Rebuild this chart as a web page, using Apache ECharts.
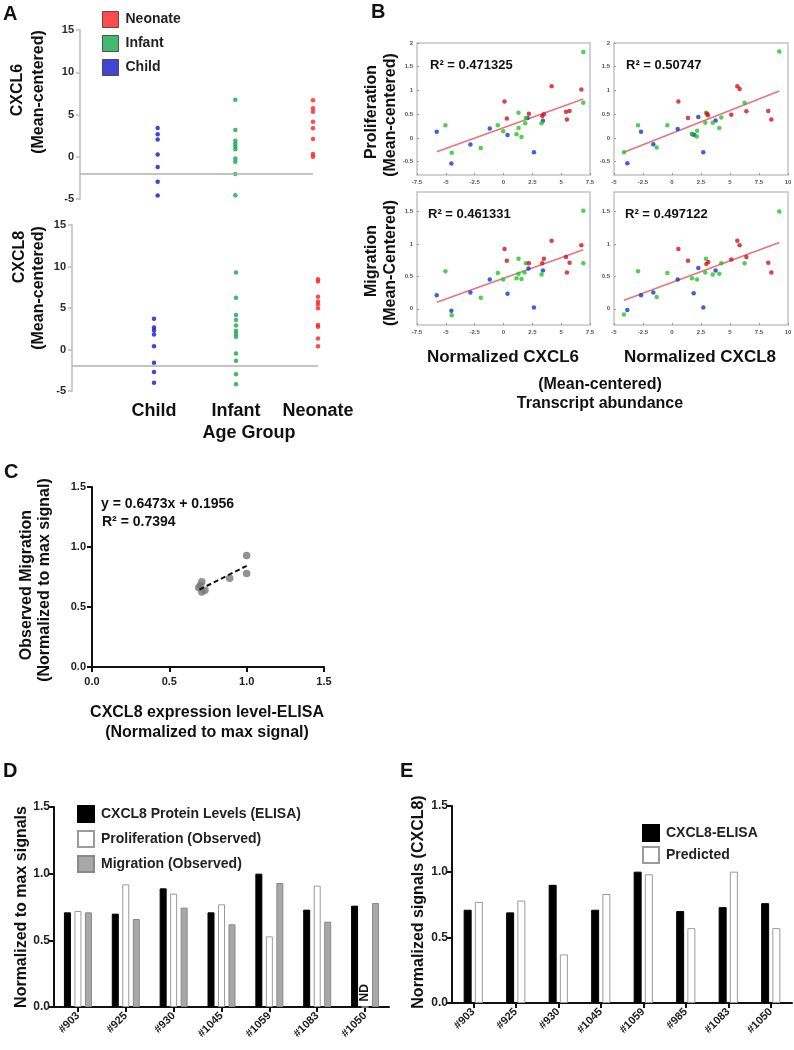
<!DOCTYPE html>
<html><head><meta charset="utf-8">
<script src="https://cdn.jsdelivr.net/npm/echarts@6/dist/echarts.min.js"></script>
<style>html,body{margin:0;padding:0;background:#fff}#c{width:794px;height:1050px}</style>
</head><body><div id="c"></div>
<script>
// ---------- DATA ----------
const ageGroups = ['Child', 'Infant', 'Neonate'];
const aBaseline = -2;
const a6Child = [3.4, 2.65, 2.05, 0.28, -1.22, -2.96, -4.58];
const a6Infant = [6.76, 3.16, 1.9, 1.55, 1.2, 0.9, -0.2, -0.6, -2.05, -4.55, -5.18];
const a6Neonate = [6.68, 5.73, 5.34, 4.15, 3.36, 2.1, 0.32, 0.0];
const a8Child = [3.7, 2.65, 2.3, 1.8, 0.4, -1.6, -2.7, -4.0];
const a8Infant = [9.27, 6.25, 4.15, 3.55, 2.9, 2.26, 1.9, 1.53, -0.48, -1.37, -2.98, -4.2];
const a8Neonate = [8.47, 8.19, 6.37, 5.77, 5.44, 4.96, 2.94, 2.74, 1.33, 0.4];

// B: top-left (CXCL6 vs proliferation)
const b1Blue = [[-5.79,0.13],[-4.52,-0.54],[-2.87,-0.14],[-1.19,0.20],[0.35,0.06],[2.08,0.42],[2.64,-0.30],[3.42,0.36]];
const b1Green = [[-5.04,0.27],[-4.49,-0.31],[-1.97,-0.21],[-0.49,0.27],[-0.03,0.14],[1.30,0.53],[1.30,0.21],[1.13,0.08],[1.56,0.02],[1.88,0.31],[1.94,0.42],[3.30,0.31],[6.92,1.81],[6.92,0.74]];
const b1Red = [[0.09,0.77],[0.29,0.41],[2.20,0.51],[3.36,0.46],[3.50,0.50],[4.17,1.09],[5.42,0.55],[5.50,0.39],[5.73,0.57],[6.75,1.02]];
const b1Trend = [[-5.79,-0.29],[6.92,0.82]];
const b1R2 = 'R² = 0.471325';
// B: top-right (CXCL8 vs proliferation)
const b2Blue = [[-3.85,-0.53],[-2.67,0.13],[-1.61,-0.13],[0.49,0.19],[1.75,0.08],[1.93,0.06],[2.27,0.44],[2.70,-0.30],[3.76,0.37]];
const b2Green = [[-4.14,-0.30],[-2.93,0.27],[-1.32,-0.20],[-0.40,0.27],[1.72,0.09],[2.16,0.15],[2.13,0.03],[2.87,0.32],[2.93,0.53],[3.51,0.32],[4.08,0.21],[4.25,0.43],[6.26,0.74],[9.25,1.82]];
const b2Red = [[0.55,0.77],[1.38,0.42],[3.02,0.51],[3.10,0.48],[5.11,0.49],[5.63,1.09],[5.83,1.03],[6.41,0.56],[8.30,0.57],[8.56,0.39]];
const b2Trend = [[-4.14,-0.30],[9.25,0.99]];
const b2R2 = 'R² = 0.50747';
// B: bottom-left (CXCL6 vs migration)
const b3Blue = [[-5.79,0.21],[-4.52,-0.03],[-2.87,0.25],[-1.19,0.45],[0.35,0.23],[2.17,0.62],[2.64,0.02],[3.42,0.59]];
const b3Green = [[-5.04,0.58],[-4.49,-0.10],[-1.97,0.17],[-0.49,0.55],[-0.03,0.45],[1.30,0.77],[1.30,0.54],[1.13,0.47],[1.56,0.46],[1.82,0.56],[1.94,0.70],[3.30,0.53],[6.92,1.51],[6.92,0.70]];
const b3Red = [[0.09,0.92],[0.29,0.74],[2.20,0.70],[3.36,0.70],[3.50,0.77],[4.17,1.05],[5.42,0.80],[5.50,0.56],[5.73,0.71],[6.75,0.98]];
const b3Trend = [[-5.79,0.10],[6.92,0.91]];
const b3R2 = 'R² = 0.461331';
// B: bottom-right (CXCL8 vs migration)
const b4Blue = [[-3.85,-0.02],[-2.67,0.21],[-1.61,0.25],[0.49,0.45],[1.87,0.24],[2.70,0.02],[2.27,0.63],[3.76,0.59]];
const b4Green = [[-4.14,-0.09],[-2.93,0.58],[-1.32,0.18],[-0.40,0.55],[1.72,0.47],[2.16,0.45],[2.87,0.56],[2.93,0.77],[3.51,0.53],[4.08,0.54],[4.25,0.70],[6.26,0.70],[9.25,1.50]];
const b4Red = [[0.55,0.92],[1.38,0.74],[2.96,0.69],[3.13,0.72],[5.11,0.76],[5.63,1.05],[5.83,0.98],[6.41,0.80],[8.30,0.71],[8.56,0.56]];
const b4Trend = [[-4.14,0.13],[9.25,1.02]];
const b4R2 = 'R² = 0.497122';
const bYTopTicks = [-0.5, 0, 0.5, 1, 1.5, 2];
const bYBotTicks = [0, 0.5, 1, 1.5];

// C
const cPoints = [[0.71,0.71],[0.70,0.68],[0.69,0.66],[0.71,0.625],[0.73,0.64],[0.89,0.74],[1.0,0.93],[1.0,0.78]];
const cTrend = [[0.695,0.645],[1.0,0.843]];
const cEquation = 'y = 0.6473x + 0.1956';
const cR2 = 'R² = 0.7394';

// D
const dSamples = ['#903', '#925', '#930', '#1045', '#1059', '#1083', '#1050'];
const dElisa = [0.71, 0.70, 0.89, 0.71, 1.0, 0.73, 0.76];
const dProlif = [0.72, 0.92, 0.85, 0.77, 0.53, 0.91, null];
const dMigr = [0.71, 0.66, 0.745, 0.62, 0.93, 0.64, 0.78];

// E
const eSamples = ['#903', '#925', '#930', '#1045', '#1059', '#985', '#1083', '#1050'];
const eElisa = [0.71, 0.69, 0.90, 0.71, 1.0, 0.70, 0.73, 0.76];
const ePred = [0.77, 0.78, 0.37, 0.83, 0.98, 0.57, 1.0, 0.57];

// ---------- STYLE ----------
const FONT = '"Liberation Sans", Arial, Helvetica, sans-serif';
const A_RED = '#ff1e1e', A_GREEN = '#14a84c', A_BLUE = '#1414cc';
const B_RED = '#d4101c', B_GREEN = '#22c424', B_BLUE = '#1438c4';
const TREND = '#e8747c';

const chart = echarts.init(document.getElementById('c'));

const gridDefs = [
  {left: 80, top: 30, width: 233, height: 169},
  {left: 72, top: 225, width: 246, height: 166},
  {left: 417, top: 43, width: 173, height: 132, show: true},
  {left: 614, top: 43, width: 174, height: 132, show: true},
  {left: 417, top: 192, width: 173, height: 133, show: true},
  {left: 614, top: 192, width: 174, height: 133, show: true},
  {left: 92, top: 487, width: 232, height: 180},
  {left: 54, top: 807, width: 335, height: 200},
  {left: 452, top: 806, width: 340, height: 197}
].map(g => Object.assign({outerBoundsMode: 'none', containLabel: false, borderColor: '#c4c4c4', borderWidth: 1.5, backgroundColor: 'transparent'}, g));

function aY(i) {
  return {gridIndex: i, type: 'value', min: -5, max: 15, interval: 5,
    axisLine: {show: true, onZero: false, lineStyle: {color: '#bcbcbc', width: 1.5}},
    axisTick: {show: true, length: 4, lineStyle: {color: '#bcbcbc', width: 1.5}},
    axisLabel: {fontSize: 11, fontWeight: 'bold', color: '#2a2a2a', margin: 6, fontFamily: FONT},
    splitLine: {show: false}};
}
function aX(i, showLabels) {
  return {gridIndex: i, type: 'value', min: 0, max: 3, interval: 1,
    axisLine: {show: false, onZero: false}, axisTick: {show: false}, splitLine: {show: false},
    axisLabel: {show: showLabels, showMaxLabel: true, showMinLabel: true,
      formatter: v => ageGroups[v - 1] || '', fontSize: 18, fontWeight: 'bold', color: '#111', margin: 11, fontFamily: FONT}};
}
function bX(i, min, max) {
  return {gridIndex: i, type: 'value', min: min, max: max, interval: 2.5,
    axisLine: {show: false, onZero: false},
    axisTick: {show: true, inside: true, length: 2, lineStyle: {color: '#999'}},
    splitLine: {show: false},
    axisLabel: {fontSize: 6, color: '#555', margin: 4, fontWeight: 'bold', fontFamily: FONT, showMaxLabel: true, showMinLabel: true}};
}
function bY(i, min, max, vals) {
  return {gridIndex: i, type: 'value', min: min, max: max,
    axisLine: {show: false, onZero: false},
    axisTick: {show: true, inside: true, length: 2, customValues: vals, lineStyle: {color: '#999'}},
    splitLine: {show: false},
    axisLabel: {customValues: vals, fontSize: 6, color: '#555', margin: 4, fontWeight: 'bold', fontFamily: FONT}};
}
const blackLine = {show: true, onZero: false, lineStyle: {color: '#111', width: 2}};
const blackTick = {show: true, length: 5, lineStyle: {color: '#111', width: 2}};
function numY(i, size, margin) {
  return {gridIndex: i, type: 'value', min: 0, max: 1.5, interval: 0.5,
    axisLine: blackLine, axisTick: blackTick, splitLine: {show: false},
    axisLabel: {formatter: v => v.toFixed(1), fontSize: size, fontWeight: 'bold', color: '#222', margin: margin, fontFamily: FONT}};
}

const xAxes = [
  aX(0, false), aX(1, true),
  bX(2, -7.5, 7.5), bX(3, -5, 10), bX(4, -7.5, 7.5), bX(5, -5, 10),
  {gridIndex: 6, type: 'value', min: 0, max: 1.5, interval: 0.5,
    axisLine: blackLine, axisTick: blackTick, splitLine: {show: false},
    axisLabel: {formatter: v => v.toFixed(1), fontSize: 11, fontWeight: 'bold', color: '#222', margin: 9, fontFamily: FONT}},
  {gridIndex: 7, type: 'category', data: dSamples,
    axisLine: blackLine, axisTick: Object.assign({alignWithLabel: true}, blackTick),
    axisLabel: {rotate: 45, interval: 0, fontSize: 11, fontWeight: 'bold', color: '#222', margin: 7, fontFamily: FONT}},
  {gridIndex: 8, type: 'category', data: eSamples,
    axisLine: blackLine, axisTick: Object.assign({alignWithLabel: true}, blackTick),
    axisLabel: {rotate: 45, interval: 0, fontSize: 11, fontWeight: 'bold', color: '#222', margin: 7, fontFamily: FONT}}
];
const yAxes = [
  aY(0), aY(1),
  bY(2, -0.78, 2, bYTopTicks), bY(3, -0.78, 2, bYTopTicks),
  bY(4, -0.25, 1.8, bYBotTicks), bY(5, -0.25, 1.8, bYBotTicks),
  numY(6, 11, 6), numY(7, 12, 4), numY(8, 12, 4)
];

const series = [];
function aSeries(idx, name, vals, xPos, color, withLine) {
  const s = {type: 'scatter', name: name, xAxisIndex: idx, yAxisIndex: idx,
    data: vals.map(v => [xPos, v]), symbolSize: 4.5, itemStyle: {color: color}, z: 3};
  if (withLine) {
    s.markLine = {silent: true, symbol: 'none', label: {show: false},
      lineStyle: {color: '#b0b0b0', width: 1.5, type: 'solid'}, data: [{yAxis: aBaseline}]};
  }
  series.push(s);
}
aSeries(0, 'Child', a6Child, 1, A_BLUE, true);
aSeries(0, 'Infant', a6Infant, 2, A_GREEN, false);
aSeries(0, 'Neonate', a6Neonate, 3, A_RED, false);
aSeries(1, 'Child', a8Child, 1, A_BLUE, true);
aSeries(1, 'Infant', a8Infant, 2, A_GREEN, false);
aSeries(1, 'Neonate', a8Neonate, 3, A_RED, false);

function bSeries(idx, blue, green, red, trend) {
  series.push({type: 'line', name: 'trend' + idx, xAxisIndex: idx, yAxisIndex: idx, data: trend,
    symbol: 'none', lineStyle: {color: TREND, width: 1.6}, z: 2, silent: true});
  [[blue, B_BLUE], [green, B_GREEN], [red, B_RED]].forEach(([d, c], k) => {
    series.push({type: 'scatter', name: 'b' + idx + '_' + k, xAxisIndex: idx, yAxisIndex: idx,
      data: d, symbolSize: 4.5, itemStyle: {color: c}, z: 3});
  });
}
bSeries(2, b1Blue, b1Green, b1Red, b1Trend);
bSeries(3, b2Blue, b2Green, b2Red, b2Trend);
bSeries(4, b3Blue, b3Green, b3Red, b3Trend);
bSeries(5, b4Blue, b4Green, b4Red, b4Trend);

series.push({type: 'scatter', name: 'cPts', xAxisIndex: 6, yAxisIndex: 6, data: cPoints,
  symbolSize: 7.5, itemStyle: {color: '#777'}, z: 3});
series.push({type: 'line', name: 'cFit', xAxisIndex: 6, yAxisIndex: 6, data: cTrend, symbol: 'none',
  lineStyle: {color: '#111', width: 2, type: [5, 3]}, z: 4});

const dNames = ['CXCL8 Protein Levels (ELISA)', 'Proliferation (Observed)', 'Migration (Observed)'];
series.push({type: 'bar', name: dNames[0], xAxisIndex: 7, yAxisIndex: 7, data: dElisa, barWidth: 7, barGap: '50%',
  itemStyle: {color: '#000', borderColor: '#000', borderWidth: 1}});
series.push({type: 'bar', name: dNames[1], xAxisIndex: 7, yAxisIndex: 7, barWidth: 7, barGap: '50%',
  data: dProlif.map(v => v === null ? {value: 0, label: {show: true, formatter: 'ND', position: 'top', rotate: 90,
    align: 'left', verticalAlign: 'middle', distance: 5, fontSize: 12, fontWeight: 'bold', color: '#111', fontFamily: FONT}} : v),
  itemStyle: {color: '#fff', borderColor: '#9a9a9a', borderWidth: 1}});
series.push({type: 'bar', name: dNames[2], xAxisIndex: 7, yAxisIndex: 7, data: dMigr, barWidth: 7, barGap: '50%',
  itemStyle: {color: '#a8a8a8', borderColor: '#888', borderWidth: 1}});

const eNames = ['CXCL8-ELISA', 'Predicted'];
series.push({type: 'bar', name: eNames[0], xAxisIndex: 8, yAxisIndex: 8, data: eElisa, barWidth: 8, barGap: '40%',
  itemStyle: {color: '#000', borderColor: '#000', borderWidth: 1}});
series.push({type: 'bar', name: eNames[1], xAxisIndex: 8, yAxisIndex: 8, data: ePred, barWidth: 8, barGap: '40%',
  itemStyle: {color: '#fff', borderColor: '#9a9a9a', borderWidth: 1}});

const legText = {fontSize: 14, fontWeight: 'bold', color: '#222', fontFamily: FONT, padding: [0, 0, 0, 2]};
const legends = [
  {data: ['Neonate', 'Infant', 'Child'], orient: 'vertical', left: 97, top: 6, itemWidth: 16, itemHeight: 16,
    itemGap: 7, icon: 'rect', selectedMode: false, textStyle: legText, itemStyle: {borderColor: '#333', borderWidth: 1}},
  {data: dNames, orient: 'vertical', left: 72, top: 800, itemWidth: 16, itemHeight: 16, itemGap: 7,
    icon: 'rect', selectedMode: false, textStyle: legText},
  {data: eNames, orient: 'vertical', left: 637, top: 819, itemWidth: 16, itemHeight: 16, itemGap: 4,
    icon: 'rect', selectedMode: false, textStyle: legText}
];

function txt(text, x, y, size, rotate, align) {
  return {type: 'text', x: x, y: y, rotation: rotate ? Math.PI / 2 : 0, z: 100, silent: true,
    style: {text: text, font: 'bold ' + size + 'px ' + FONT, fill: '#111',
      textAlign: align || 'center', textVerticalAlign: 'middle', align: align || 'center', verticalAlign: 'middle'}};
}
const graphics = [
  txt('A', 3, 14, 20, false, 'left'),
  txt('CXCL6', 18, 90, 16, true),
  txt('(Mean-centered)', 39, 92, 16, true),
  txt('CXCL8', 20, 257, 16, true),
  txt('(Mean-centered)', 39, 288, 16, true),
  txt('Age Group', 249, 433, 18),
  txt('B', 371, 12, 20, false, 'left'),
  txt('Proliferation', 372, 112, 16, true),
  txt('(Mean-centered)', 391, 115, 16, true),
  txt('Migration', 372, 261, 16, true),
  txt('(Mean-Centered)', 391, 263, 16, true),
  txt(b1R2, 430, 65, 13, false, 'left'),
  txt(b2R2, 626, 65, 13, false, 'left'),
  txt(b3R2, 428, 214, 13, false, 'left'),
  txt(b4R2, 625, 214, 13, false, 'left'),
  txt('Normalized CXCL6', 503, 357, 17),
  txt('Normalized CXCL8', 700, 357, 17),
  txt('(Mean-centered)', 600, 385, 16),
  txt('Transcript abundance', 600, 404, 16),
  txt('C', 4, 472, 20, false, 'left'),
  txt('Observed Migration', 27, 585, 16, true),
  txt('(Normalized to max signal)', 45, 580, 16, true),
  txt(cEquation, 101, 504, 14, false, 'left'),
  txt(cR2, 102, 522, 14, false, 'left'),
  txt('CXCL8 expression level-ELISA', 207, 713, 16),
  txt('(Normalized to max signal)', 207, 733, 16),
  txt('D', 3, 771, 20, false, 'left'),
  txt('Normalized to max signals', 22, 907, 16, true),
  txt('E', 400, 771, 20, false, 'left'),
  txt('Normalized signals (CXCL8)', 419, 902, 16, true)
];

chart.setOption({
  animation: false,
  backgroundColor: '#fff',
  textStyle: {fontFamily: FONT},
  grid: gridDefs,
  xAxis: xAxes,
  yAxis: yAxes,
  legend: legends,
  series: series,
  graphic: graphics
});
</script>
</body></html>
